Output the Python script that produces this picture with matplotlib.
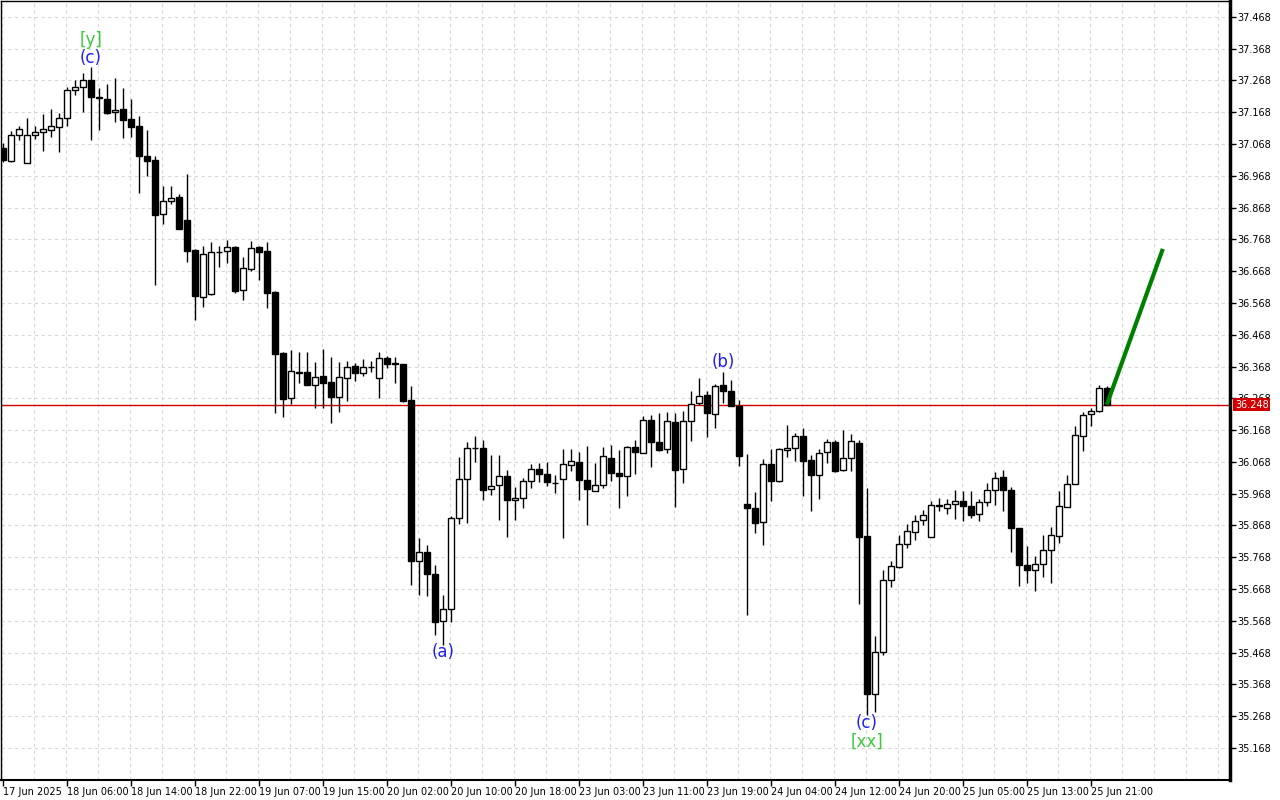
import numpy as np
import matplotlib.pyplot as plt
from matplotlib.transforms import blended_transform_factory

# H1 candles (open, high, low, close)
opens = [37.056, 37.015, 37.097, 37.009, 37.097, 37.107, 37.113, 37.121, 37.151, 37.239,
         37.248, 37.270, 37.215, 37.211, 37.170, 37.179, 37.148, 37.124, 37.031, 37.019,
         36.849, 36.890, 36.900, 36.830, 36.736, 36.588, 36.595, 36.727, 36.730, 36.744,
         36.608, 36.676, 36.744, 36.731, 36.602, 36.410, 36.270, 36.352, 36.350, 36.311,
         36.338, 36.319, 36.273, 36.331, 36.369, 36.349, 36.365, 36.331, 36.394, 36.378,
         36.375, 36.263, 35.755, 35.785, 35.716, 35.567, 35.605, 35.892, 36.014, 36.111,
         36.112, 35.983, 35.996, 36.024, 35.948, 35.955, 36.008, 36.046, 36.030, 36.002,
         36.014, 36.059, 36.068, 36.011, 35.977, 35.995, 36.080, 36.033, 36.024, 36.116,
         36.096, 36.200, 36.132, 36.107, 36.193, 36.045, 36.197, 36.252, 36.278, 36.219,
         36.311, 36.291, 36.245, 35.935, 35.924, 35.878, 36.061, 36.007, 36.105, 36.112,
         36.148, 36.073, 36.028, 36.099, 36.132, 36.041, 36.081, 36.128, 35.834, 35.339,
         35.471, 35.697, 35.737, 35.811, 35.847, 35.886, 35.832, 35.932, 35.924, 35.936,
         35.944, 35.930, 35.905, 35.943, 35.981, 36.019, 35.979, 35.861, 35.743, 35.727,
         35.747, 35.791, 35.835, 35.927, 35.998, 36.149, 36.219, 36.228, 36.300]
highs = [37.070, 37.108, 37.126, 37.151, 37.126, 37.163, 37.179, 37.166, 37.247, 37.270,
         37.291, 37.310, 37.245, 37.256, 37.277, 37.245, 37.211, 37.157, 37.111, 37.029,
         36.935, 36.935, 36.910, 36.975, 36.739, 36.746, 36.760, 36.747, 36.766, 36.747,
         36.712, 36.763, 36.747, 36.759, 36.605, 36.414, 36.421, 36.413, 36.413, 36.382,
         36.424, 36.398, 36.382, 36.385, 36.380, 36.391, 36.385, 36.413, 36.400, 36.398,
         36.377, 36.308, 35.829, 35.805, 35.742, 35.650, 35.899, 36.083, 36.132, 36.148,
         36.138, 36.091, 36.091, 36.041, 35.988, 36.016, 36.060, 36.065, 36.068, 36.027,
         36.107, 36.107, 36.099, 36.118, 36.065, 36.116, 36.121, 36.106, 36.119, 36.138,
         36.211, 36.215, 36.222, 36.226, 36.222, 36.229, 36.292, 36.332, 36.292, 36.313,
         36.350, 36.326, 36.264, 36.093, 35.974, 36.076, 36.110, 36.112, 36.185, 36.159,
         36.176, 36.089, 36.110, 36.141, 36.138, 36.167, 36.157, 36.138, 35.987, 35.519,
         35.729, 35.757, 35.837, 35.871, 35.900, 35.915, 35.944, 35.955, 35.950, 35.978,
         35.975, 35.975, 35.950, 36.003, 36.036, 36.042, 35.988, 35.861, 35.804, 35.773,
         35.839, 35.864, 35.977, 36.028, 36.182, 36.224, 36.238, 36.311, 36.308]
lows = [37.010, 37.013, 37.082, 37.008, 37.084, 37.046, 37.090, 37.043, 37.125, 37.223,
        37.169, 37.082, 37.113, 37.161, 37.137, 37.088, 37.090, 36.914, 36.967, 36.623,
        36.815, 36.879, 36.800, 36.697, 36.513, 36.555, 36.594, 36.681, 36.694, 36.599,
        36.577, 36.670, 36.640, 36.553, 36.223, 36.210, 36.250, 36.315, 36.311, 36.238,
        36.238, 36.191, 36.226, 36.259, 36.322, 36.339, 36.352, 36.270, 36.362, 36.317,
        36.257, 35.679, 35.650, 35.647, 35.523, 35.493, 35.563, 35.873, 35.875, 36.067,
        35.948, 35.964, 35.884, 35.831, 35.884, 35.923, 35.986, 36.004, 35.992, 35.970,
        35.829, 36.040, 35.948, 35.870, 35.976, 35.986, 36.007, 35.922, 35.960, 36.030,
        36.096, 36.051, 36.103, 36.095, 35.925, 36.000, 36.133, 36.248, 36.145, 36.174,
        36.253, 36.243, 36.054, 35.586, 35.845, 35.805, 35.946, 36.004, 36.084, 36.072,
        35.961, 35.913, 35.950, 36.064, 36.035, 36.039, 36.039, 35.622, 35.270, 35.281,
        35.459, 35.674, 35.734, 35.797, 35.821, 35.868, 35.832, 35.912, 35.903, 35.887,
        35.882, 35.892, 35.882, 35.928, 35.931, 35.912, 35.783, 35.676, 35.686, 35.661,
        35.705, 35.686, 35.812, 35.925, 35.998, 36.103, 36.182, 36.224, 36.248]
closes = [37.018, 37.097, 37.116, 37.097, 37.107, 37.114, 37.126, 37.151, 37.239, 37.248,
          37.270, 37.216, 37.213, 37.166, 37.176, 37.145, 37.121, 37.030, 37.014, 36.845,
          36.890, 36.899, 36.800, 36.731, 36.590, 36.723, 36.727, 36.728, 36.744, 36.605,
          36.677, 36.740, 36.729, 36.600, 36.408, 36.267, 36.353, 36.349, 36.311, 36.335,
          36.317, 36.273, 36.335, 36.366, 36.349, 36.366, 36.366, 36.394, 36.375, 36.376,
          36.259, 35.755, 35.785, 35.714, 35.563, 35.605, 35.892, 36.014, 36.112, 36.113,
          35.980, 35.992, 36.024, 35.948, 35.955, 36.007, 36.046, 36.030, 36.005, 36.000,
          36.062, 36.071, 36.011, 35.983, 35.996, 36.086, 36.033, 36.022, 36.116, 36.098,
          36.200, 36.130, 36.106, 36.196, 36.042, 36.197, 36.250, 36.276, 36.222, 36.307,
          36.291, 36.243, 36.085, 35.923, 35.876, 36.061, 36.007, 36.108, 36.112, 36.150,
          36.071, 36.028, 36.097, 36.132, 36.039, 36.081, 36.135, 35.832, 35.339, 35.471,
          35.697, 35.739, 35.811, 35.849, 35.883, 35.902, 35.933, 35.930, 35.936, 35.944,
          35.929, 35.901, 35.943, 35.981, 36.018, 35.979, 35.859, 35.742, 35.727, 35.747,
          35.791, 35.838, 35.929, 35.998, 36.153, 36.215, 36.228, 36.300, 36.248]

time_labels = ["17 Jun 2025", "18 Jun 06:00", "18 Jun 14:00", "18 Jun 22:00",
               "19 Jun 07:00", "19 Jun 15:00", "20 Jun 02:00", "20 Jun 10:00",
               "20 Jun 18:00", "23 Jun 03:00", "23 Jun 11:00", "23 Jun 19:00",
               "24 Jun 04:00", "24 Jun 12:00", "24 Jun 20:00", "25 Jun 05:00",
               "25 Jun 13:00", "25 Jun 21:00"]
price_ticks = [35.168, 35.268, 35.368, 35.468, 35.568, 35.668, 35.768, 35.868,
               35.968, 36.068, 36.168, 36.268, 36.368, 36.468, 36.568, 36.668,
               36.768, 36.868, 36.968, 37.068, 37.168, 37.268, 37.368, 37.468]

last_price = 36.248
forecast_x = [138, 145]
forecast_y = [36.248, 36.738]

# wave marks: text, candle index, price, colour
wave_labels = [("[y]", 11, 37.396, "#3cc83c"),
               ("(c)", 11, 37.339, "#1e1eff"),
               ("(a)", 55, 35.470, "#1e1eff"),
               ("(b)", 90, 36.382, "#1e1eff"),
               ("(c)", 108, 35.246, "#1e1eff"),
               ("[xx]", 108, 35.186, "#3cc83c")]

o = np.array(opens)
h = np.array(highs)
l = np.array(lows)
c = np.array(closes)
idx = np.arange(len(o))

fig = plt.figure(figsize=(12.8, 8), dpi=100)
ax = fig.add_axes([1 / 1280, 20 / 800, 1229 / 1280, 779 / 800])

# grid
for k in range(0, 160, 4):
    ax.axvline(k - 0.1, color="#d8d8d8", lw=0.8, ls=(0, (3, 3)), zorder=0)
for p in price_ticks:
    ax.axhline(p, color="#d8d8d8", lw=0.8, ls=(0, (3, 3)), zorder=0)

# last price line
ax.axhline(last_price, color="#d00000", lw=1, zorder=1)

# candles
ax.vlines(idx, l, h, color="black", lw=1, zorder=2)
bull = c >= o
bottoms = np.minimum(o, c)
heights = np.maximum(np.abs(c - o), 0.002)
ax.bar(idx[bull], heights[bull], bottom=bottoms[bull], width=0.7,
       color="white", edgecolor="black", linewidth=1, zorder=3)
ax.bar(idx[~bull], heights[~bull], bottom=bottoms[~bull], width=0.7,
       color="black", edgecolor="black", linewidth=1, zorder=3)

# forecast arrow line
ax.plot(forecast_x, forecast_y, color="#008000", lw=3, solid_capstyle="butt", zorder=4)

for text, i, p, col in wave_labels:
    ax.text(i, p, text, color=col, fontsize=12, ha="center", va="center", zorder=5)

ax.set_xlim(-0.25, 153.4)
ax.set_ylim(35.067, 37.518)

ax.set_xticks(np.arange(0, 8 * len(time_labels), 8))
ax.set_xticklabels(time_labels, fontsize=7, ha="left")
ax.yaxis.tick_right()
ax.set_yticks(price_ticks)
ax.set_yticklabels([f"{p:.3f}" for p in price_ticks], fontsize=7)
ax.tick_params(axis="x", length=4, width=1, pad=1)
ax.tick_params(axis="y", length=4, width=1, pad=1)

for side in ["left", "top"]:
    ax.spines[side].set_linewidth(1)
ax.spines["right"].set_linewidth(2.5)
ax.spines["bottom"].set_linewidth(1.5)

# current price tag
trans = blended_transform_factory(ax.transAxes, ax.transData)
ax.text(1.004, last_price, f"{last_price:.3f}", transform=trans, ha="left", va="center",
        color="white", fontsize=7, zorder=6,
        bbox=dict(facecolor="#d00000", edgecolor="none", pad=1.2), clip_on=False)

plt.savefig("out.png", dpi=100)
